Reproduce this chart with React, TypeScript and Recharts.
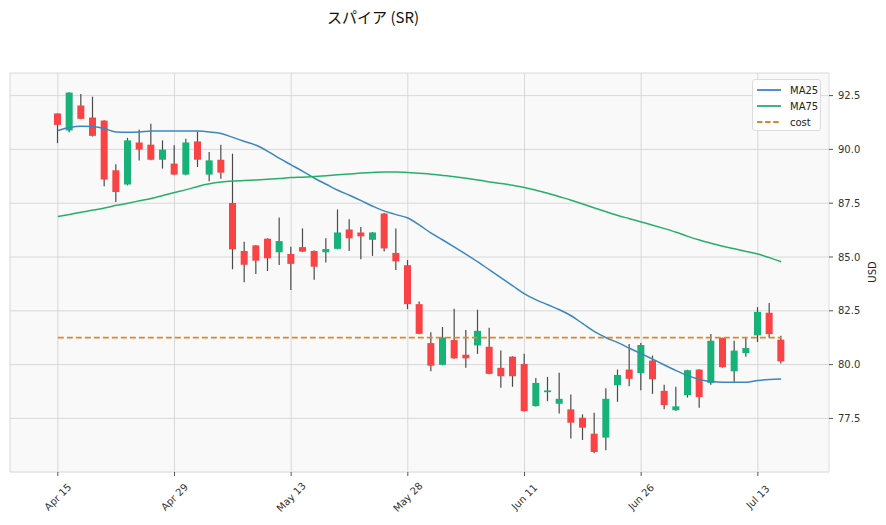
import {
  ComposedChart,
  Bar,
  Line,
  XAxis,
  YAxis,
  CartesianGrid,
  ReferenceLine,
} from "recharts";

const tickIdx = [0, 10, 20, 30, 40, 50, 60];
const tickLabels = ["Apr 15", "Apr 29", "May 13", "May 28", "Jun 11", "Jun 26", "Jul 13"];

const opens = [
  91.67, 90.88, 92.04, 91.48, 91.34, 89.03, 88.37, 90.32, 90.22, 89.52,
  89.34, 88.83, 90.37, 88.83, 89.52, 87.51, 85.28, 85.54, 85.85, 85.22,
  85.14, 85.46, 85.28, 85.22, 85.38, 86.28, 86.14, 85.8, 87.02, 85.19,
  84.62, 82.81, 81.0, 79.99, 81.14, 80.46, 80.89, 80.83, 79.85, 80.37,
  80.03, 78.07, 78.72, 78.18, 77.92, 77.53, 76.79, 76.61, 79.04, 79.77,
  79.6, 80.19, 78.78, 77.88, 78.58, 79.77, 79.15, 81.24, 79.69, 80.54,
  81.36, 82.41, 81.16,
];
const highs = [
  91.68, 92.66, 92.58, 92.45, 91.36, 89.31, 90.54, 90.91, 91.19, 90.42,
  90.19, 90.5, 90.83, 89.88, 90.22, 89.8, 85.71, 85.56, 85.87, 86.84,
  85.48, 86.33, 85.3, 85.87, 87.21, 86.75, 86.4, 86.16, 87.04, 86.33,
  84.86, 82.93, 81.5, 81.75, 82.59, 81.61, 82.55, 81.71, 80.66, 80.39,
  80.5, 79.38, 79.43, 79.62, 78.61, 77.69, 77.76, 78.9, 79.77, 80.96,
  81.0, 80.42, 79.06, 78.97, 79.76, 79.79, 81.42, 81.26, 81.11, 81.24,
  82.67, 82.86, 81.34,
];
const lows = [
  90.29, 90.8, 91.4, 90.6, 88.29, 87.56, 88.33, 89.49, 89.5, 89.11,
  88.8, 88.8, 89.18, 88.52, 88.64, 84.43, 83.83, 84.21, 84.35, 84.63,
  83.47, 85.23, 83.94, 84.75, 85.36, 85.28, 84.89, 85.05, 85.25, 84.4,
  82.58, 81.41, 79.69, 79.97, 80.27, 79.85, 80.5, 79.55, 78.92, 78.97,
  77.82, 78.05, 78.3, 77.73, 76.57, 76.5, 75.88, 76.02, 78.27, 79.0,
  78.81, 78.64, 77.92, 77.86, 78.47, 78.0, 79.06, 79.86, 79.2, 80.36,
  81.05, 81.24, 80.05,
];
const closes = [
  91.14, 92.64, 91.42, 90.63, 88.6, 88.02, 90.42, 89.99, 89.52, 89.99,
  88.83, 90.32, 89.52, 89.49, 88.92, 85.36, 84.64, 84.83, 84.94, 85.74,
  84.68, 85.25, 84.55, 85.37, 86.14, 85.87, 85.96, 86.14, 85.4, 84.8,
  82.81, 81.43, 79.95, 81.26, 80.29, 80.29, 81.57, 79.57, 79.46, 79.46,
  77.84, 79.15, 78.8, 78.41, 77.3, 77.07, 75.94, 78.41, 79.52, 79.34,
  80.91, 79.32, 78.12, 78.06, 79.74, 78.49, 81.11, 79.88, 80.65, 80.77,
  82.45, 81.42, 80.15,
];
const ma25 = [
  90.88, 91.02, 91.08, 91.06, 90.97, 90.81, 90.8, 90.81, 90.86, 90.86,
  90.86, 90.86, 90.85, 90.81, 90.74, 90.56, 90.37, 90.19, 89.91, 89.58,
  89.28, 88.98, 88.66, 88.38, 88.1, 87.87, 87.62, 87.36, 87.13, 86.97,
  86.81, 86.48, 86.11, 85.79, 85.46, 85.12, 84.77, 84.4, 84.03, 83.66,
  83.29, 83.01, 82.78, 82.55, 82.27, 81.9, 81.53, 81.25, 81.02, 80.76,
  80.51, 80.25, 79.98, 79.72, 79.49, 79.31, 79.21, 79.18, 79.18, 79.18,
  79.26, 79.31, 79.33,
];
const ma75 = [
  86.88, 86.98, 87.08, 87.18, 87.28, 87.4, 87.5, 87.61, 87.72, 87.86,
  88.0, 88.13, 88.28, 88.4, 88.48, 88.53, 88.56, 88.58, 88.61, 88.65,
  88.69, 88.71, 88.74, 88.78, 88.82, 88.86, 88.9, 88.93, 88.95, 88.95,
  88.93, 88.89, 88.85, 88.79, 88.73, 88.66, 88.58, 88.49, 88.42, 88.33,
  88.23, 88.1, 87.96, 87.8, 87.64, 87.46, 87.28, 87.1, 86.93, 86.78,
  86.63, 86.48, 86.32, 86.15, 85.96, 85.79, 85.64, 85.5, 85.38, 85.26,
  85.14, 84.97, 84.78,
];
const cost = 81.25;

const UP = "#16b277";
const DOWN = "#fb4346";
const WICK = "#4a4a4a";
const COST = "#e0862a";
const FONT = '"DejaVu Sans", sans-serif';

const data = opens.map((o, i) => ({
  i,
  open: o,
  high: highs[i],
  low: lows[i],
  close: closes[i],
  ma25: ma25[i],
  ma75: ma75[i],
}));

// body + wick drawn inside the low..high range bar
const Candle = (props: any) => {
  const { x, y, width, height, payload } = props;
  if (!payload) return null;
  const { open, close, high, low } = payload;
  const top = Math.min(y, y + height);
  const k = Math.abs(height) / (high - low || 1);
  const cx = x + width / 2;
  const yO = top + (high - open) * k;
  const yC = top + (high - close) * k;
  const bodyTop = Math.min(yO, yC);
  const bodyH = Math.max(Math.abs(yO - yC), 1);
  const color = close >= open ? UP : DOWN;
  return (
    <g>
      <line x1={cx} x2={cx} y1={top} y2={top + Math.abs(height)} stroke={WICK} strokeWidth={1.2} />
      <rect x={cx - 3.5} y={bodyTop} width={7} height={bodyH} fill={color} />
    </g>
  );
};

const XTick = (props: any) => {
  const { x, payload } = props;
  const label = tickLabels[tickIdx.indexOf(payload.value)] ?? "";
  return (
    <g transform={`translate(${x},497)`}>
      <text
        transform="rotate(-45)"
        textAnchor="middle"
        dominantBaseline="central"
        fontSize={10}
        fill="#333"
        fontFamily={FONT}
      >
        {label}
      </text>
    </g>
  );
};

const legendItems = [
  { name: "MA25", color: "#3a87c0", dash: false },
  { name: "MA75", color: "#27b065", dash: false },
  { name: "cost", color: COST, dash: true },
];

const App = () => {
  return (
    <div
      style={{
        position: "absolute",
        left: 0,
        top: 0,
        width: 886,
        height: 525,
        background: "#fff",
        fontFamily: FONT,
      }}
    >
      <div
        style={{
          position: "absolute",
          left: 0,
          top: 6,
          width: 746,
          textAlign: "center",
          fontSize: 15,
          lineHeight: "22px",
          color: "#111",
          fontFamily: '"Noto Sans CJK JP", sans-serif',
        }}
      >
        スパイア (SR)
      </div>
      <ComposedChart
        width={886}
        height={525}
        data={data}
        margin={{ top: 73, right: 0, bottom: 0, left: 10 }}
      >
        <CartesianGrid stroke="#d0d0d0" fill="#f9f9f9" strokeWidth={0.8} />
        <XAxis
          dataKey="i"
          type="number"
          domain={[-4.1, 66.1]}
          ticks={tickIdx}
          allowDataOverflow
          height={53}
          tickSize={4}
          tickLine={{ stroke: "#555" }}
          axisLine={{ stroke: "#e6e6e6" }}
          tick={<XTick />}
          interval={0}
        />
        <YAxis
          orientation="right"
          type="number"
          domain={[75.01, 93.55]}
          ticks={[77.5, 80, 82.5, 85, 87.5, 90, 92.5]}
          tickFormatter={(v: number) => v.toFixed(1)}
          allowDataOverflow
          width={57}
          tickSize={4}
          tickMargin={5}
          tickLine={{ stroke: "#555" }}
          axisLine={{ stroke: "#eeeeee" }}
          tick={{ fontSize: 10, fill: "#333", fontFamily: FONT, textAnchor: "start" }}
        />
        <Bar
          dataKey={(d: any) => [d.low, d.high]}
          barSize={7}
          shape={<Candle />}
          isAnimationActive={false}
        />
        <Line
          dataKey="ma25"
          stroke="#3a87c0"
          strokeWidth={1.5}
          dot={false}
          type="monotone"
          isAnimationActive={false}
        />
        <Line
          dataKey="ma75"
          stroke="#27b065"
          strokeWidth={1.5}
          dot={false}
          type="monotone"
          isAnimationActive={false}
        />
        <ReferenceLine
          segment={[
            { x: 0, y: cost },
            { x: 62, y: cost },
          ]}
          stroke={COST}
          strokeWidth={1.8}
          strokeDasharray="6 3"
        />
      </ComposedChart>
      <div
        style={{
          position: "absolute",
          left: 752,
          top: 79,
          width: 69,
          height: 52,
          border: "1px solid #dcdcdc",
          borderRadius: 3,
          background: "rgba(255,255,255,0.85)",
          boxSizing: "border-box",
        }}
      >
        {legendItems.map((it, k) => (
          <div
            key={it.name}
            style={{
              position: "absolute",
              left: 3,
              top: 3 + k * 16,
              height: 14,
              display: "flex",
              alignItems: "center",
              fontSize: 10,
              color: "#222",
            }}
          >
            <svg width={26} height={4} style={{ marginRight: 8 }}>
              <line
                x1={1}
                x2={25}
                y1={2}
                y2={2}
                stroke={it.color}
                strokeWidth={1.8}
                strokeDasharray={it.dash ? "5.5 2.6" : undefined}
              />
            </svg>
            {it.name}
          </div>
        ))}
      </div>
      <div
        style={{
          position: "absolute",
          left: 872,
          top: 272,
          transform: "translate(-50%,-50%) rotate(-90deg)",
          fontSize: 10,
          color: "#222",
          whiteSpace: "nowrap",
        }}
      >
        USD
      </div>
    </div>
  );
};

export default App;
